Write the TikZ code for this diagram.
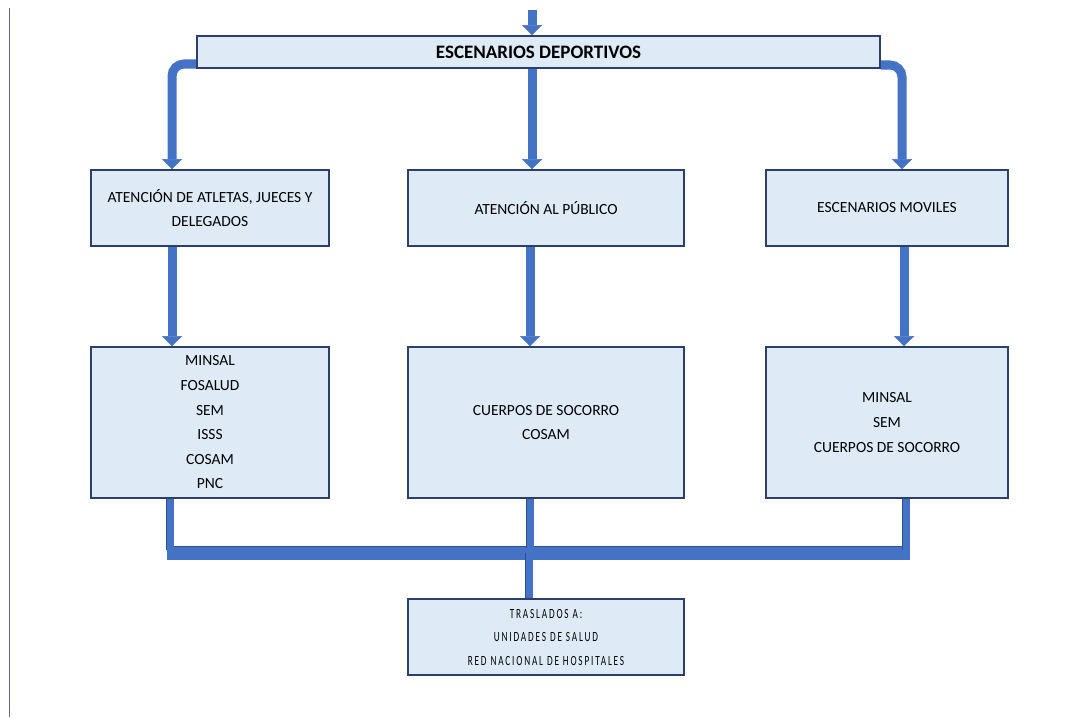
\documentclass[tikz,border=0pt]{standalone}
\usepackage{fontspec}
\setmainfont{Carlito}
\newfontfamily\narrowf[FakeStretch=0.66,LetterSpace=13]{Carlito}
\usetikzlibrary{arrows.meta,calc}
\definecolor{boxfill}{HTML}{DEEBF7}
\definecolor{boxline}{HTML}{2B3F6B}
\definecolor{pipe}{HTML}{4472C4}
\definecolor{pipedark}{HTML}{2F528F}
\definecolor{marginline}{HTML}{5B6B8C}
\begin{document}
\begin{tikzpicture}[x=1pt,y=-1pt,
  box/.style={draw=boxline, fill=boxfill, line width=1.6pt, inner sep=0pt, align=center,
    font=\fontsize{15.5}{24.6}\selectfont},
  arrowpipe/.style={draw=pipe, line width=9pt, line cap=butt,
    -{Triangle[width=20pt,length=10pt,line width=0.5pt]}},
  vpipe/.style={draw=pipe, line width=7pt, line cap=butt,
    preaction={draw=pipedark, line width=8.2pt}},
  hbar/.style={draw=pipe, line width=13pt, line cap=butt,
    preaction={draw=pipedark, line width=14.2pt}},
]
\useasboundingbox (0,0) rectangle (1078,717);
\draw[marginline, line width=1pt] (9,8) -- (9,717);

% nodes
\node[box, minimum width=683pt, minimum height=32pt,
  font=\fontsize{19}{22}\selectfont\bfseries] (top) at (538.5,52) {ESCENARIOS DEPORTIVOS};

\node[box, minimum width=238pt, minimum height=76pt] (lb2) at (210,208)
  {ATENCIÓN DE ATLETAS, JUECES Y\\DELEGADOS};
\node[box, minimum width=276pt, minimum height=76pt] (mb2) at (546,208)
  {ATENCIÓN AL PÚBLICO};
\node[box, minimum width=242pt, minimum height=76pt] (rb2) at (887,208)
  {ESCENARIOS MOVILES};

\node[box, minimum width=238pt, minimum height=151pt] (lb3) at (210,422.5)
  {MINSAL\\FOSALUD\\SEM\\ISSS\\COSAM\\PNC};
\node[box, minimum width=276pt, minimum height=151pt] (mb3) at (546,422.5)
  {CUERPOS DE SOCORRO\\COSAM};
\node[box, minimum width=242pt, minimum height=151pt] (rb3) at (887,422.5)
  {MINSAL\\SEM\\CUERPOS DE SOCORRO};

\node[box, minimum width=276pt, minimum height=76pt,
  font=\narrowf\fontsize{14}{23.5}\selectfont] (bot) at (546,637)
  {TRASLADOS A:\\UNIDADES DE SALUD\\RED NACIONAL DE HOSPITALES};

% connectors
\coordinate (src) at (532,10);
\draw[arrowpipe] (src) -- ([xshift=-6.5pt]top.north);
\draw[arrowpipe, rounded corners=12pt] ([yshift=-12pt]top.west) -| ([xshift=-38pt]lb2.north);
\draw[arrowpipe, rounded corners=12pt] ([yshift=-13pt]top.east) -| ([xshift=15pt]rb2.north);
\draw[arrowpipe] ([xshift=-6.5pt]top.south) -- ([xshift=-14pt]mb2.north);

\draw[arrowpipe] ([xshift=-38pt]lb2.south) -- ([xshift=-38pt]lb3.north);
\draw[arrowpipe] ([xshift=-16pt]mb2.south) -- ([xshift=-16pt]mb3.north);
\draw[arrowpipe] ([xshift=17pt]rb2.south) -- ([xshift=17pt]rb3.north);

\coordinate (barL) at (167,553);
\coordinate (barR) at (910,553);
\coordinate (jl) at (170,550);
\coordinate (jm) at (530,548);
\coordinate (jr) at (906,550);
\coordinate (jb) at (529,553);
\draw[hbar] (barL) -- (barR);
\draw[vpipe] ([xshift=-40pt]lb3.south) -- (jl);
\draw[vpipe] ([xshift=-16pt]mb3.south) -- (jm);
\draw[vpipe] ([xshift=19pt]rb3.south) -- (jr);
\draw[vpipe] (jb) -- ([xshift=-17pt]bot.north);
\end{tikzpicture}
\end{document}
